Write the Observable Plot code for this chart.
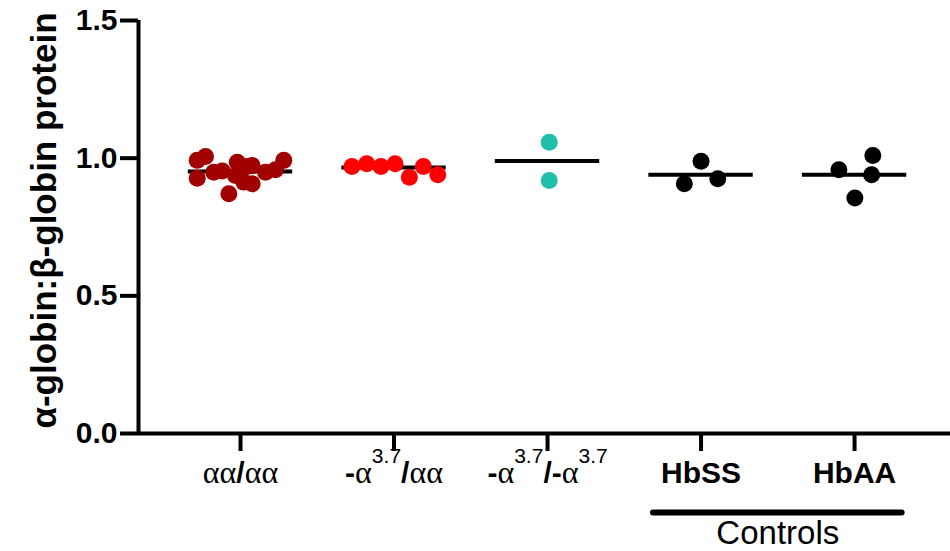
<!DOCTYPE html>
<html><head><meta charset="utf-8">
<script src="https://cdn.jsdelivr.net/npm/d3@7"></script>
<script src="https://cdn.jsdelivr.net/npm/@observablehq/plot@0.6"></script>
<style>body{margin:0;background:#fff} svg{display:block}</style>
</head><body><div id="chart"></div>
<script>
// ---- data ----
const categories = ["αα/αα", "-α^3.7^/αα", "-α^3.7^/-α^3.7^", "HbSS", "HbAA"];
const boldCategories = ["HbSS", "HbAA"];
const colors = ["#a00000", "#ff0000", "#1fbfa9", "#000000", "#000000"];

const values1 = [0.992, 1.006, 0.927, 0.949, 0.953, 0.871, 0.985, 0.937, 0.970, 0.973, 0.913, 0.907, 0.949, 0.958, 0.992];
const jitter1 = [-0.282, -0.228, -0.282, -0.174, -0.119, -0.076, -0.021, -0.033, 0.044, 0.076, 0.021, 0.076, 0.163, 0.228, 0.282];
const values2 = [0.970, 0.980, 0.970, 0.980, 0.931, 0.970, 0.940];
const jitter2 = [-0.274, -0.178, -0.085, 0.007, 0.100, 0.191, 0.285];
const values3 = [1.058, 0.919];
const jitter3 = [0.011, 0.011];
const values4 = [0.907, 0.989, 0.925];
const jitter4 = [-0.109, 0.000, 0.109];
const values5 = [0.958, 1.010, 0.940, 0.855];
const jitter5 = [-0.102, 0.119, 0.111, 0.002];

const means = [0.952, 0.966, 0.990, 0.940, 0.940];
const yTicks = [0, 0.5, 1.0, 1.5];
const yLabel = "α-globin:β-globin protein";
const bracketLabel = "Controls";
const bracketGroups = ["HbSS", "HbAA"];

// ---- build tables ----
const allValues = [values1, values2, values3, values4, values5];
const allJitter = [jitter1, jitter2, jitter3, jitter4, jitter5];
const points = [];
allValues.forEach((vals, i) => vals.forEach((v, k) => points.push({pos: i + 1 + allJitter[i][k], value: v, group: categories[i]})));
const meanRows = means.map((m, i) => ({pos: i + 1, mean: m}));
const halfWidth = 0.34;
const b0 = categories.indexOf(bracketGroups[0]) + 1, b1 = categories.indexOf(bracketGroups[1]) + 1;
const bracket = [{x1: b0 - 0.31, x2: b1 + 0.31, mid: (b0 + b1) / 2}];

const xDomain = [0.3355, 5.625];
const yDomain = [0, 1.5];
const sans = "Liberation Sans, Arial, Helvetica, sans-serif";
const serif = "Liberation Serif, Times New Roman, serif";

const plot = Plot.plot({
  width: 950, height: 551,
  marginLeft: 138, marginRight: 0, marginTop: 20, marginBottom: 118,
  x: {type: "linear", domain: xDomain},
  y: {domain: yDomain},
  color: {domain: categories, range: colors},
  style: {fontFamily: sans, background: "white", color: "black", overflow: "visible"},
  marks: [
    Plot.ruleY(meanRows, {y: "mean", x1: d => d.pos - halfWidth, x2: d => d.pos + halfWidth, stroke: "black", strokeWidth: 4}),
    Plot.dot(points, {x: "pos", y: "value", r: 8.5, fill: "group", stroke: null}),
    Plot.axisY({ticks: yTicks, tickFormat: d3.format(".1f"), tickSize: 18, tickPadding: 3, strokeWidth: 4, fontSize: 30, fontWeight: "bold", label: null}),
    Plot.axisX({ticks: [1, 2, 3, 4, 5], tickFormat: i => categories[i - 1], tickSize: 18, tickPadding: 10, strokeWidth: 4, fontSize: 30, label: null}),
    Plot.ruleY([0], {strokeWidth: 4}),
    Plot.ruleX([xDomain[0]], {y1: yDomain[0], y2: yDomain[1], strokeWidth: 4}),
    Plot.ruleY(bracket, {y: 0, x1: "x1", x2: "x2", dy: 79, strokeWidth: 6, strokeLinecap: "round"}),
    Plot.text(bracket, {x: "mid", y: 0, text: () => bracketLabel, dy: 100, fontSize: 33}),
    Plot.text([yLabel], {x: () => xDomain[0], y: () => (yDomain[0] + yDomain[1]) / 2, rotate: -90, dx: -93.7, dy: -6.5, fontSize: 35, fontWeight: "bold", ariaLabel: "y-title"})
  ]
});
document.getElementById("chart").appendChild(plot);

// ---- rich text: Greek in a serif, superscripts ----
const ns = "http://www.w3.org/2000/svg";
function richText(el, str, greekSize) {
  el.textContent = "";
  const parts = str.split("^");
  parts.forEach((part, k) => {
    const isSup = k % 2 === 1;
    const runs = part.match(/[α-ω]+|[^α-ω]+/g) || [];
    runs.forEach((run, j) => {
      const t = document.createElementNS(ns, "tspan");
      t.textContent = run;
      if (isSup) {
        t.setAttribute("font-size", 21);
        t.setAttribute("font-weight", "normal");
      } else if (/[α-ω]/.test(run)) {
        t.setAttribute("font-family", serif);
        t.setAttribute("font-weight", "normal");
        if (greekSize) t.setAttribute("font-size", greekSize);
      } else {
        t.setAttribute("font-weight", "bold");
      }
      if (j === 0 && isSup) t.setAttribute("dy", -20);
      if (j === 0 && !isSup && k > 0) t.setAttribute("dy", 20);
      el.appendChild(t);
    });
  });
}
plot.querySelectorAll('g[aria-label="x-axis tick label"] text').forEach(el => {
  const s = el.textContent;
  if (boldCategories.includes(s)) el.setAttribute("font-weight", "bold");
  else richText(el, s, 32);
});
plot.querySelectorAll('g[aria-label="y-title"] text').forEach(el => richText(el, el.textContent));
</script>
</body></html>
